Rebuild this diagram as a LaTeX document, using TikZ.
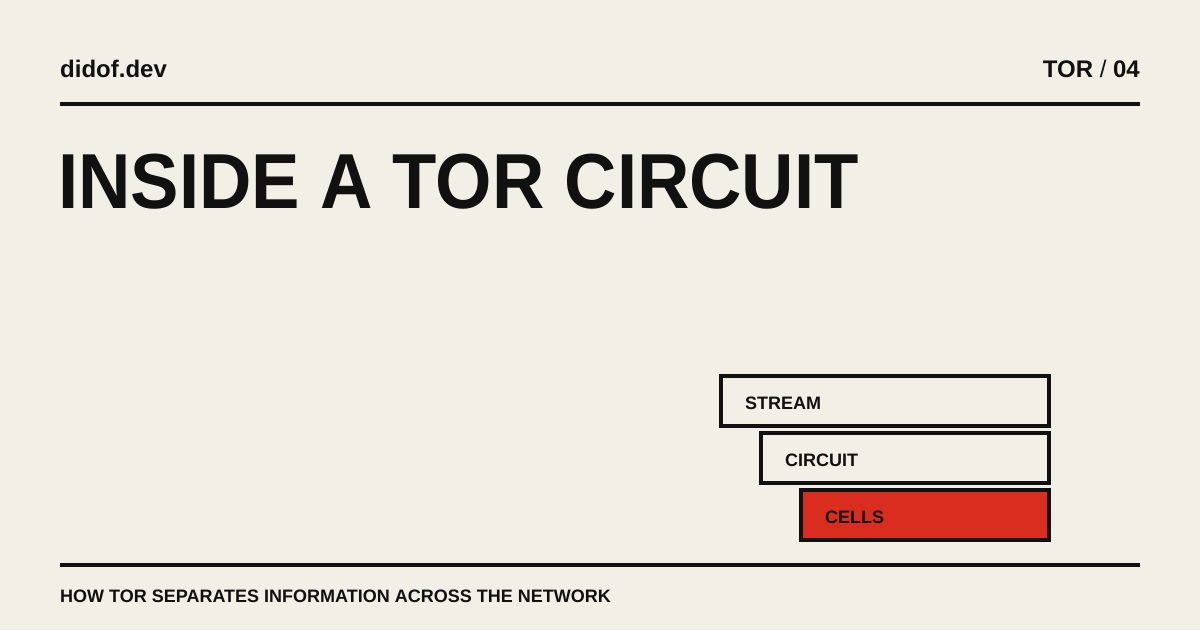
\documentclass[tikz,border=0pt]{standalone}
\usepackage{fontspec}
\setmainfont{Liberation Sans}
\definecolor{bg}{HTML}{F2EFE7}
\definecolor{ink}{HTML}{111111}
\definecolor{red}{HTML}{D92E1F}
\begin{document}
\begin{tikzpicture}[x=1pt,y=-1pt,
  lbl/.style={anchor=base west,inner sep=0pt,text=ink,font=\bfseries\fontsize{18}{18}\selectfont},
  layer/.style={draw=ink,line width=4pt}]
\fill[bg] (0,0) rectangle (1200,630);
\useasboundingbox (0,0) rectangle (1200,630);
\node[anchor=base west,inner sep=0pt,text=ink,font=\bfseries\fontsize{24}{24}\selectfont] (site) at (60,77) {didof.dev};
\node[anchor=base east,inner sep=0pt,text=ink,font=\fontsize{24}{24}\selectfont] (tag) at (1140,77) {\textbf{TOR} / \textbf{04}};
\draw[ink,line width=4pt] (60,104) -- (1140,104);
\node[anchor=base west,inner sep=0pt,text=ink,font=\bfseries\fontsize{78}{78}\selectfont] (title) at (58,208) {\scalebox{0.93}[1]{INSIDE A TOR CIRCUIT}};
\draw[layer,fill=bg] (721,376) rectangle (1049,426);
\node[lbl] (s) at (745,409) {STREAM};
\draw[layer,fill=bg] (761,433) rectangle (1049,483);
\node[lbl] (c) at (785,466) {CIRCUIT};
\draw[layer,fill=red] (801,490) rectangle (1049,540);
\node[lbl] (e) at (825,523) {CELLS};
\draw[ink,line width=4pt] (60,565) -- (1140,565);
\node[anchor=base west,inner sep=0pt,text=ink,font=\bfseries\fontsize{18}{18}\selectfont] (sub) at (60,602) {HOW TOR SEPARATES INFORMATION ACROSS THE NETWORK};
\end{tikzpicture}
\end{document}
